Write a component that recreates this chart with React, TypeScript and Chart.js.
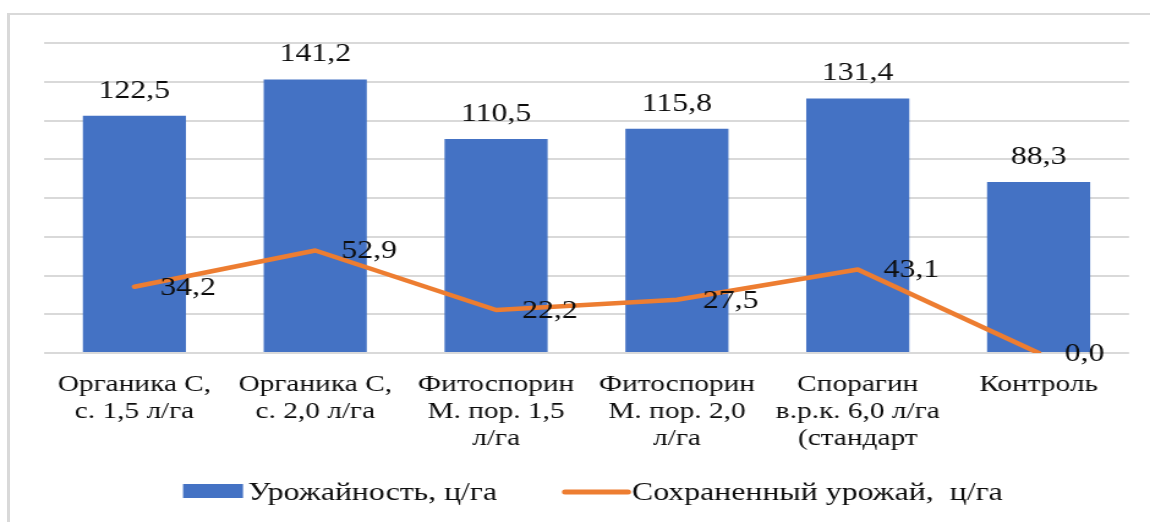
import React, { useEffect, useRef } from "react";
import { Chart, registerables } from "chart.js";

Chart.register(...registerables);

// ---------- data ----------
const categories: string[][] = [
  ["Органика С,", "с. 1,5 л/га"],
  ["Органика С,", "с. 2,0 л/га"],
  ["Фитоспорин", "М. пор. 1,5", "л/га"],
  ["Фитоспорин", "М. пор. 2,0", "л/га"],
  ["Спорагин", "в.р.к. 6,0 л/га", "(стандарт"],
  ["Контроль"],
];
const yieldValues = [122.5, 141.2, 110.5, 115.8, 131.4, 88.3];
const savedValues = [34.2, 52.9, 22.2, 27.5, 43.1, 0.0];
const seriesNames = ["Урожайность, ц/га", "Сохраненный урожай,  ц/га"];
const yMin = 0;
const yMax = 160;
const yStep = 20;

// ---------- styling ----------
const PAGE_W = 1150;
const PAGE_H = 522;
const CANVAS_W = 940;
const SX = PAGE_W / CANVAS_W; // horizontal stretch of the whole picture
const FONT = '"Liberation Serif", "Times New Roman", serif';
const TEXT = "#0d0d0d";
const BLUE = "#4472C4";
const ORANGE = "#ED7D31";
const GRID = "#d9d9d9";

const fmt = (v: number) => v.toFixed(1).replace(".", ",");

const valueLabels = {
  id: "valueLabels",
  afterDatasetsDraw(chart: any) {
    const ctx = chart.ctx as CanvasRenderingContext2D;
    ctx.save();
    ctx.fillStyle = TEXT;
    ctx.font = `26px ${FONT}`;
    const bars = chart.getDatasetMeta(0).data;
    bars.forEach((el: any, i: number) => {
      ctx.textAlign = "center";
      ctx.textBaseline = "alphabetic";
      ctx.fillText(fmt(yieldValues[i]), el.x, el.y - 18);
    });
    const pts = chart.getDatasetMeta(1).data;
    pts.forEach((el: any, i: number) => {
      ctx.textAlign = "left";
      ctx.textBaseline = "middle";
      ctx.fillText(fmt(savedValues[i]), el.x + 26 / SX, el.y + 1);
    });
    ctx.restore();
  },
};

const customLegend = {
  id: "customLegend",
  afterDraw(chart: any) {
    const ctx = chart.ctx as CanvasRenderingContext2D;
    ctx.save();
    ctx.font = `26px ${FONT}`;
    ctx.textAlign = "left";
    ctx.textBaseline = "alphabetic";
    ctx.fillStyle = BLUE;
    ctx.fillRect(183 / SX, 484, 60 / SX, 14);
    ctx.fillStyle = TEXT;
    ctx.fillText(seriesNames[0], 248 / SX, 500);
    ctx.strokeStyle = ORANGE;
    ctx.lineWidth = 5;
    ctx.lineCap = "round";
    ctx.beginPath();
    ctx.moveTo(565 / SX, 492);
    ctx.lineTo(628 / SX, 492);
    ctx.stroke();
    ctx.fillText(seriesNames[1], 632 / SX, 500);
    ctx.restore();
  },
};

export default function App() {
  const ref = useRef<HTMLCanvasElement | null>(null);

  useEffect(() => {
    if (!ref.current) return;
    const chart = new Chart(ref.current, {
      type: "bar",
      data: {
        labels: categories as any,
        datasets: [
          {
            type: "bar",
            label: seriesNames[0],
            data: yieldValues,
            backgroundColor: BLUE,
            barPercentage: 0.57,
            categoryPercentage: 1,
            order: 2,
          } as any,
          {
            type: "line",
            label: seriesNames[1],
            data: savedValues,
            borderColor: ORANGE,
            backgroundColor: ORANGE,
            borderWidth: 4.5,
            pointRadius: 0,
            borderCapStyle: "round",
            borderJoinStyle: "round",
            tension: 0,
            fill: false,
            order: 1,
          } as any,
        ],
      },
      options: {
        responsive: false,
        animation: false,
        devicePixelRatio: 1,
        layout: { padding: { left: 44 / SX, right: 21 / SX, top: 43, bottom: 0 } },
        plugins: {
          legend: { display: false },
          tooltip: { enabled: false },
        },
        scales: {
          x: {
            grid: { display: false, drawTicks: false },
            border: { display: false },
            ticks: {
              font: { family: FONT, size: 24, lineHeight: 1.125 },
              color: TEXT,
              padding: 18,
              maxRotation: 0,
              autoSkip: false,
            },
            afterFit: (s: any) => {
              s.height = 169;
            },
          },
          y: {
            min: yMin,
            max: yMax,
            ticks: { display: false, stepSize: yStep },
            grid: { color: GRID, lineWidth: 2, drawTicks: false },
            border: { display: false },
            afterFit: (s: any) => {
              s.width = 0;
            },
          },
        },
      },
      plugins: [valueLabels, customLegend],
    });
    return () => chart.destroy();
  }, []);

  return (
    <div
      style={{
        position: "fixed",
        left: 0,
        top: 0,
        width: PAGE_W,
        height: PAGE_H,
        overflow: "hidden",
        background: "#fff",
      }}
    >
      <div
        style={{
          position: "absolute",
          left: 7,
          top: 13,
          width: 2000,
          height: 2000,
          borderLeft: `3px solid ${GRID}`,
          borderTop: `2px solid ${GRID}`,
        }}
      />
      <canvas
        ref={ref}
        width={CANVAS_W}
        height={PAGE_H}
        style={{
          position: "absolute",
          left: 0,
          top: 0,
          transform: `scaleX(${SX})`,
          transformOrigin: "0 0",
        }}
      />
    </div>
  );
}
